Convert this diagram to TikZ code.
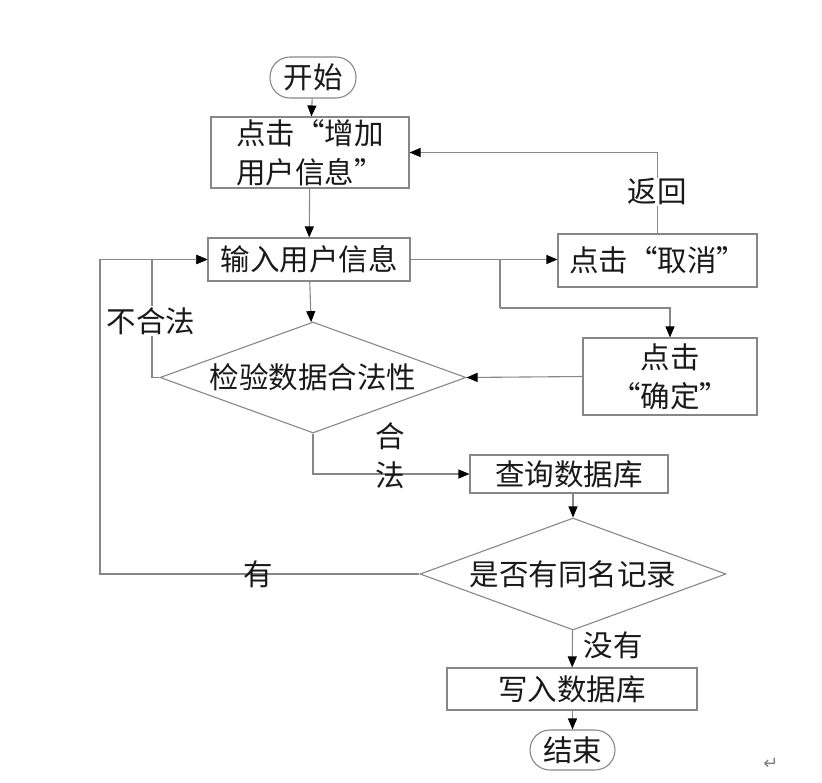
\documentclass[tikz,border=0pt]{standalone}
\usepackage{fontspec}
\setmainfont{Noto Sans CJK SC}
\newfontfamily\symfont{DejaVu Sans}
\usetikzlibrary{shapes.geometric,arrows.meta}
\definecolor{linegray}{RGB}{135,135,135}
\definecolor{txt}{RGB}{25,25,25}
\begin{document}
\begin{tikzpicture}[x=1pt,y=-1pt,
  font=\fontsize{29.5}{39}\selectfont, text=txt,
  box/.style={draw=linegray, line width=1.1pt, inner sep=0pt, align=center},
  stad/.style={box, rounded corners=20pt},
  dia/.style={draw=linegray, line width=1.1pt, diamond, aspect=2.75, inner sep=0pt, align=center},
  arr/.style={draw=linegray, line width=1.1pt, -{Triangle[length=11pt,width=9pt,color=black]}},
  ln/.style={draw=linegray, line width=1.1pt},
  lbl/.style={inner sep=1pt, align=center}]
\useasboundingbox (0,0) rectangle (822,782);

\node[stad, minimum width=86pt, minimum height=41pt] (start) at (313,77.5) {开始};
\node[box, minimum width=198pt, minimum height=71pt] (b1) at (310,152.5) {点击“增加\\用户信息”};
\node[box, minimum width=202pt, minimum height=43pt] (b2) at (309,259.5) {输入用户信息};
\node[box, minimum width=199pt, minimum height=53pt] (cancel) at (657.5,260.5) {点击“取消”};
\node[box, minimum width=174pt, minimum height=77pt] (ok) at (670,376.5) {点击\\“确定”};
\node[dia, minimum width=306pt, minimum height=111pt] (check) at (313,377.5) {检验数据合法性};
\node[box, minimum width=198pt, minimum height=38pt] (query) at (569,474) {查询数据库};
\node[dia, minimum width=306pt, minimum height=112pt] (dup) at (573,574) {是否有同名记录};
\node[box, minimum width=250pt, minimum height=42pt] (write) at (572,689) {写入数据库};
\node[stad, minimum width=85pt, minimum height=40pt] (end) at (572.5,750) {结束};

\coordinate (br) at (500,260);
\coordinate (brd) at (500,308);
\coordinate (nl) at (152,377.5);
\coordinate (ol) at (100,574);

\draw[arr] (start) -- (b1);
\draw[arr] (b1) -- (b2);
\draw[arr] (b2.east) -- (b2.east -| cancel.west);
\draw[ln] (br) -- (brd);
\draw[arr] (brd) -| (ok.north);
\draw[arr] (cancel.north) |- (b1.east);
\node[lbl, fill=white] (back) at (657,192) {返回};
\draw[arr] (b2) -- (check);
\draw[arr] (ok.west) -- (check.east);
\draw[arr] (check.west) -- (nl) |- (b2.west);
\node[lbl, fill=white] (illegal) at (151,321) {不合法};
\draw[arr] (dup.west) -- (ol) |- (b2.west);
\node[lbl] (have) at (258,574) {有};
\draw[arr] (check.south) |- (query.west);
\node[lbl] (legal) at (390,456) {合\\法};
\draw[arr] (query.south -| dup.north) -- (dup.north);
\draw[arr] (dup) -- (write);
\node[lbl] (none) at (613,645) {没有};
\draw[arr] (write.south -| end.north) -- (end);
\node[inner sep=0pt, text=gray, font=\symfont\fontsize{18}{20}\selectfont] (ret) at (771,764) {↵};
\end{tikzpicture}
\end{document}
